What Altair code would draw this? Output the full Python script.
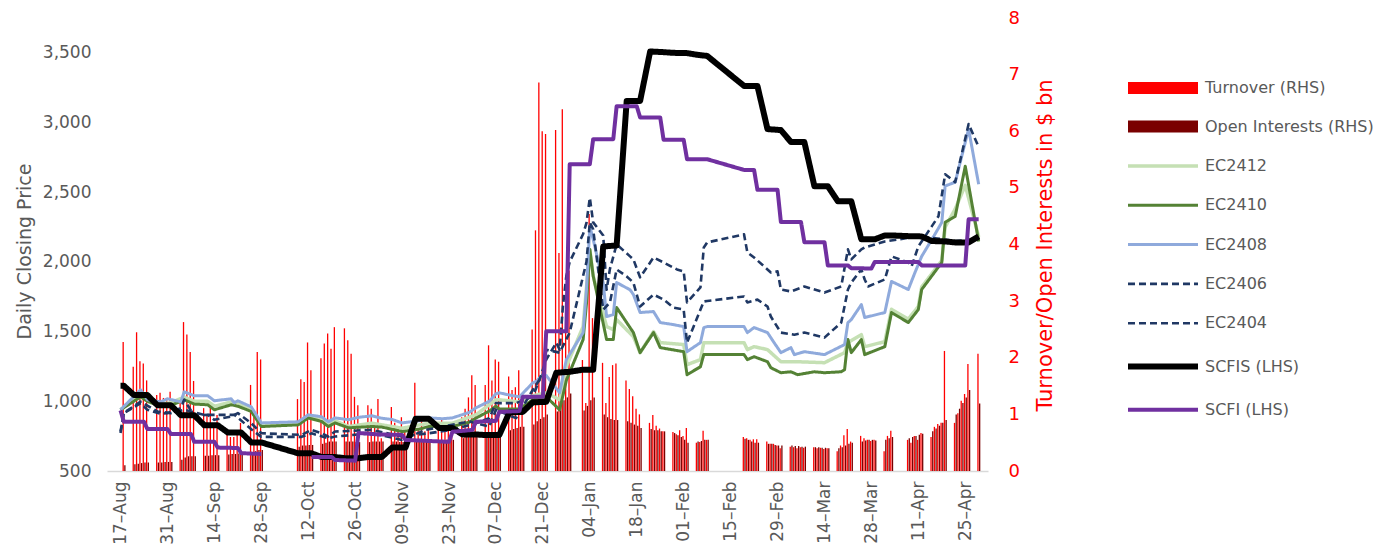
import altair as alt
import pandas as pd

FONT = "DejaVu Sans"
GRAY = "#595959"
RED = "#ff0000"

# ---------------- axis tick labels ----------------
tick_labels = ["2023-08-17", "2023-08-31", "2023-09-14", "2023-09-28", "2023-10-12",
               "2023-10-26", "2023-11-09", "2023-11-23", "2023-12-07", "2023-12-21",
               "2024-01-04", "2024-01-18", "2024-02-01", "2024-02-15", "2024-02-29",
               "2024-03-14", "2024-03-28", "2024-04-11", "2024-04-25"]
left_ticks = [500, 1000, 1500, 2000, 2500, 3000, 3500]
right_ticks = [0, 1, 2, 3, 4, 5, 6, 7, 8]

# ---------------- trading calendar ----------------
holidays = ["2023-09-29", "2023-10-02", "2023-10-03", "2023-10-04", "2023-10-05",
            "2023-10-06", "2024-01-01", "2024-02-09", "2024-02-12", "2024-02-13",
            "2024-02-14", "2024-02-15", "2024-02-16", "2024-04-04", "2024-04-05"]
trading_days = [d.strftime("%Y-%m-%d") for d in pd.bdate_range("2023-08-18", "2024-04-29")
                if d.strftime("%Y-%m-%d") not in holidays]

# ---------------- bars (US$ bn), one list per trading week ----------------
turnover_weeks = [
    [2.28],
    [1.84, 2.45, 1.94, 1.90, 1.60],
    [1.34, 1.38, 1.29, 1.25, 1.40],
    [1.25, 2.63, 2.41, 2.10, 1.59],
    [1.11, 0.97, 1.20, 0.81, 0.99],
    [0.72, 0.60, 0.60, 0.72, 0.85],
    [1.52, 1.07, 2.10, 1.97],
    [1.27, 1.62, 1.57, 2.27, 1.78],
    [1.99, 2.25, 2.43, 2.16, 2.54],
    [2.52, 2.31, 2.07, 1.31, 1.16],
    [1.16, 1.10, 0.85, 1.27, 0.58],
    [1.13, 0.85, 0.75, 0.95, 0.70],
    [1.56, 0.75, 0.90, 0.70, 0.80],
    [0.80, 0.90, 0.75, 0.85, 0.70],
    [0.95, 1.10, 1.30, 1.69, 1.52],
    [1.52, 2.22, 1.60, 1.97, 1.93],
    [1.67, 1.43, 1.48, 1.78, 1.30],
    [2.50, 4.25, 6.86, 6.00, 5.95],
    [6.02, 3.85, 6.39, 3.01, 3.54],
    [1.96, 1.20, 4.54, 2.70],
    [1.91, 1.20, 1.66, 1.87, 1.90],
    [1.60, 1.45, 1.32, 1.10, 1.00],
    [0.85, 0.99, 0.80, 0.75, 0.70],
    [0.69, 0.65, 0.72, 0.62, 0.76],
    [0.50, 0.51, 0.71, 0.55],
    [0.60, 0.58, 0.55, 0.56, 0.56],
    [0.52, 0.48, 0.48, 0.45, 0.40],
    [0.43, 0.42, 0.40, 0.42, 0.41],
    [0.42, 0.40, 0.41, 0.39, 0.40],
    [0.35, 0.45, 0.63, 0.74, 0.52],
    [0.62, 0.58, 0.55, 0.53, 0.55],
    [0.35, 0.62, 0.71],
    [0.55, 0.50, 0.62, 0.55, 0.67],
    [0.60, 0.78, 0.83, 0.85, 2.12],
    [0.85, 1.02, 1.24, 1.36, 1.89],
    [2.07],
]
oi_weeks = [
    [0.10],
    [0.12, 0.13, 0.14, 0.15, 0.15],
    [0.15, 0.15, 0.16, 0.16, 0.16],
    [0.20, 0.24, 0.26, 0.26, 0.26],
    [0.27, 0.27, 0.28, 0.28, 0.28],
    [0.29, 0.30, 0.30, 0.31, 0.31],
    [0.33, 0.35, 0.37, 0.37],
    [0.43, 0.45, 0.45, 0.46, 0.46],
    [0.48, 0.50, 0.52, 0.52, 0.52],
    [0.52, 0.52, 0.52, 0.51, 0.51],
    [0.51, 0.52, 0.52, 0.52, 0.52],
    [0.52, 0.52, 0.51, 0.51, 0.52],
    [0.52, 0.52, 0.52, 0.52, 0.52],
    [0.53, 0.54, 0.55, 0.55, 0.55],
    [0.58, 0.60, 0.62, 0.63, 0.63],
    [0.65, 0.67, 0.68, 0.69, 0.69],
    [0.72, 0.74, 0.76, 0.78, 0.78],
    [0.82, 0.88, 0.92, 0.95, 1.00],
    [1.05, 1.15, 1.25, 1.30, 1.37],
    [1.07, 1.15, 1.25, 1.30],
    [1.00, 0.95, 0.92, 0.90, 0.90],
    [0.88, 0.85, 0.82, 0.80, 0.76],
    [0.74, 0.72, 0.72, 0.70, 0.70],
    [0.67, 0.63, 0.60, 0.55, 0.50],
    [0.52, 0.53, 0.55, 0.55],
    [0.57, 0.55, 0.52, 0.50, 0.50],
    [0.48, 0.48, 0.46, 0.45, 0.45],
    [0.45, 0.44, 0.44, 0.43, 0.43],
    [0.42, 0.42, 0.41, 0.41, 0.40],
    [0.40, 0.42, 0.45, 0.48, 0.50],
    [0.52, 0.54, 0.55, 0.55, 0.54],
    [0.55, 0.58, 0.60],
    [0.58, 0.60, 0.62, 0.64, 0.66],
    [0.70, 0.75, 0.80, 0.85, 0.90],
    [1.00, 1.10, 1.20, 1.30, 1.43],
    [1.19],
]

# ---------------- price lines (LHS) ----------------
ec2412 = [("2023-08-17", 939), ("2023-08-23", 1050), ("2023-08-25", 1005), ("2023-08-29", 980),
          ("2023-09-01", 990), ("2023-09-05", 1030), ("2023-09-08", 1000), ("2023-09-12", 1000),
          ("2023-09-14", 965), ("2023-09-19", 995), ("2023-09-21", 990), ("2023-09-25", 945),
          ("2023-09-28", 835), ("2023-10-09", 840), ("2023-10-12", 890), ("2023-10-16", 870),
          ("2023-10-18", 835), ("2023-10-20", 860), ("2023-10-24", 819), ("2023-10-31", 843),
          ("2023-11-09", 807), ("2023-11-17", 843), ("2023-11-24", 843), ("2023-12-01", 903),
          ("2023-12-07", 1011), ("2023-12-08", 1011), ("2023-12-14", 996), ("2023-12-18", 1040),
          ("2023-12-22", 1061), ("2023-12-26", 1011), ("2023-12-28", 1250), ("2024-01-02", 1536),
          ("2024-01-04", 2090), ("2024-01-05", 1900), ("2024-01-09", 1536), ("2024-01-11", 1514),
          ("2024-01-12", 1586), ("2024-01-17", 1464), ("2024-01-19", 1349), ("2024-01-23", 1500),
          ("2024-01-25", 1421), ("2024-02-01", 1407), ("2024-02-02", 1263), ("2024-02-06", 1299),
          ("2024-02-07", 1421), ("2024-02-08", 1421), ("2024-02-19", 1421), ("2024-02-20", 1371),
          ("2024-02-22", 1392), ("2024-02-26", 1371), ("2024-03-01", 1284), ("2024-03-06", 1284),
          ("2024-03-14", 1277), ("2024-03-20", 1349), ("2024-03-21", 1421), ("2024-03-25", 1478),
          ("2024-03-26", 1392), ("2024-04-01", 1428), ("2024-04-03", 1660), ("2024-04-08", 1590),
          ("2024-04-11", 1680), ("2024-04-12", 1820), ("2024-04-18", 2010), ("2024-04-19", 2250),
          ("2024-04-22", 2380), ("2024-04-25", 2550), ("2024-04-29", 2180)]
ec2410 = [("2023-08-17", 939), ("2023-08-23", 1032), ("2023-08-25", 1000), ("2023-08-29", 963),
          ("2023-09-01", 970), ("2023-09-05", 1011), ("2023-09-08", 980), ("2023-09-12", 975),
          ("2023-09-14", 939), ("2023-09-19", 975), ("2023-09-21", 965), ("2023-09-25", 927),
          ("2023-09-28", 819), ("2023-10-09", 831), ("2023-10-12", 881), ("2023-10-16", 855),
          ("2023-10-18", 819), ("2023-10-20", 845), ("2023-10-24", 810), ("2023-10-31", 819),
          ("2023-11-03", 815), ("2023-11-09", 783), ("2023-11-14", 800), ("2023-11-17", 819),
          ("2023-11-24", 819), ("2023-11-29", 850), ("2023-12-01", 879), ("2023-12-05", 930),
          ("2023-12-07", 965), ("2023-12-08", 945), ("2023-12-14", 945), ("2023-12-18", 1011),
          ("2023-12-22", 1032), ("2023-12-26", 939), ("2023-12-28", 1150), ("2024-01-02", 1443),
          ("2024-01-03", 1700), ("2024-01-04", 2090), ("2024-01-05", 1900), ("2024-01-09", 1443),
          ("2024-01-11", 1443), ("2024-01-12", 1673), ("2024-01-17", 1493), ("2024-01-19", 1349),
          ("2024-01-23", 1493), ("2024-01-25", 1385), ("2024-02-01", 1356), ("2024-02-02", 1191),
          ("2024-02-06", 1248), ("2024-02-07", 1335), ("2024-02-08", 1335), ("2024-02-19", 1335),
          ("2024-02-20", 1299), ("2024-02-22", 1320), ("2024-02-26", 1284), ("2024-02-27", 1241),
          ("2024-03-01", 1205), ("2024-03-04", 1212), ("2024-03-06", 1191), ("2024-03-11", 1212),
          ("2024-03-14", 1205), ("2024-03-19", 1212), ("2024-03-20", 1227), ("2024-03-21", 1443),
          ("2024-03-22", 1349), ("2024-03-25", 1443), ("2024-03-26", 1335), ("2024-04-01", 1392),
          ("2024-04-03", 1637), ("2024-04-08", 1565), ("2024-04-11", 1658), ("2024-04-12", 1802),
          ("2024-04-18", 1996), ("2024-04-19", 2284), ("2024-04-22", 2327), ("2024-04-25", 2687),
          ("2024-04-29", 2147)]
ec2408 = [("2023-08-17", 939), ("2023-08-23", 1083), ("2023-08-25", 1011), ("2023-08-29", 996),
          ("2023-08-31", 1018), ("2023-09-04", 996), ("2023-09-05", 1068), ("2023-09-08", 1040),
          ("2023-09-12", 1040), ("2023-09-14", 1004), ("2023-09-19", 1018), ("2023-09-20", 989),
          ("2023-09-21", 1004), ("2023-09-25", 960), ("2023-09-28", 845), ("2023-10-09", 853),
          ("2023-10-12", 903), ("2023-10-16", 889), ("2023-10-18", 853), ("2023-10-20", 881),
          ("2023-10-24", 868), ("2023-10-27", 885), ("2023-10-31", 896), ("2023-11-03", 878),
          ("2023-11-06", 870), ("2023-11-09", 845), ("2023-11-14", 860), ("2023-11-17", 881),
          ("2023-11-21", 875), ("2023-11-24", 881), ("2023-11-29", 920), ("2023-12-01", 953),
          ("2023-12-05", 1000), ("2023-12-07", 1054), ("2023-12-08", 1061), ("2023-12-11", 1045),
          ("2023-12-14", 1032), ("2023-12-18", 1133), ("2023-12-19", 1143), ("2023-12-21", 1191),
          ("2023-12-22", 1185), ("2023-12-26", 1061), ("2023-12-28", 1300), ("2024-01-02", 1493),
          ("2024-01-03", 1800), ("2024-01-04", 2255), ("2024-01-05", 2162), ("2024-01-08", 1850),
          ("2024-01-09", 1608), ("2024-01-11", 1622), ("2024-01-12", 1852), ("2024-01-16", 1800),
          ("2024-01-17", 1766), ("2024-01-19", 1637), ("2024-01-23", 1644), ("2024-01-25", 1565),
          ("2024-01-29", 1550), ("2024-02-01", 1536), ("2024-02-02", 1356), ("2024-02-06", 1421),
          ("2024-02-07", 1529), ("2024-02-08", 1536), ("2024-02-19", 1536), ("2024-02-20", 1493),
          ("2024-02-22", 1529), ("2024-02-26", 1493), ("2024-02-28", 1420), ("2024-03-01", 1349),
          ("2024-03-04", 1385), ("2024-03-05", 1335), ("2024-03-08", 1356), ("2024-03-14", 1335),
          ("2024-03-20", 1407), ("2024-03-21", 1565), ("2024-03-22", 1586), ("2024-03-25", 1694),
          ("2024-03-26", 1601), ("2024-04-01", 1637), ("2024-04-03", 1860), ("2024-04-08", 1802),
          ("2024-04-10", 1924), ("2024-04-12", 2040), ("2024-04-16", 2200), ("2024-04-18", 2284),
          ("2024-04-19", 2545), ("2024-04-22", 2572), ("2024-04-26", 2953), ("2024-04-29", 2557)]
ec2406 = [("2023-08-17", 783), ("2023-08-18", 917), ("2023-08-23", 998), ("2023-08-28", 927),
          ("2023-09-01", 915), ("2023-09-05", 939), ("2023-09-11", 903), ("2023-09-20", 903),
          ("2023-09-25", 800), ("2023-09-28", 745), ("2023-10-10", 745), ("2023-10-13", 770),
          ("2023-10-18", 735), ("2023-10-20", 747), ("2023-10-31", 771), ("2023-11-09", 723),
          ("2023-11-16", 795), ("2023-11-29", 855), ("2023-12-05", 819), ("2023-12-07", 939),
          ("2023-12-13", 879), ("2023-12-18", 1083), ("2023-12-21", 1191), ("2023-12-22", 1370),
          ("2023-12-26", 1349), ("2023-12-29", 1493), ("2024-01-02", 1900), ("2024-01-03", 2000),
          ("2024-01-04", 2284), ("2024-01-05", 2234), ("2024-01-08", 1658), ("2024-01-10", 1709),
          ("2024-01-12", 1946), ("2024-01-15", 1896), ("2024-01-17", 1852), ("2024-01-19", 1680),
          ("2024-01-23", 1766), ("2024-01-26", 1730), ("2024-01-29", 1672), ("2024-02-01", 1658),
          ("2024-02-02", 1421), ("2024-02-07", 1716), ("2024-02-08", 1720), ("2024-02-19", 1752),
          ("2024-02-20", 1709), ("2024-02-23", 1730), ("2024-02-26", 1680), ("2024-02-27", 1608),
          ("2024-03-01", 1493), ("2024-03-05", 1478), ("2024-03-08", 1493), ("2024-03-14", 1457),
          ("2024-03-19", 1565), ("2024-03-21", 1802), ("2024-03-22", 1852), ("2024-03-25", 1946),
          ("2024-03-26", 1874), ("2024-03-27", 1824), ("2024-04-01", 1874), ("2024-04-03", 2040),
          ("2024-04-08", 1996), ("2024-04-09", 1968), ("2024-04-11", 2111), ("2024-04-15", 2255),
          ("2024-04-17", 2327), ("2024-04-19", 2629), ("2024-04-22", 2572), ("2024-04-26", 2989),
          ("2024-04-29", 2824)]
ec2404 = [("2023-08-17", 773), ("2023-08-18", 915), ("2023-08-23", 987), ("2023-08-25", 939),
          ("2023-08-29", 910), ("2023-08-31", 915), ("2023-09-04", 951), ("2023-09-05", 1011),
          ("2023-09-08", 896), ("2023-09-12", 903), ("2023-09-14", 867), ("2023-09-19", 891),
          ("2023-09-21", 915), ("2023-09-25", 843), ("2023-09-28", 771), ("2023-10-10", 759),
          ("2023-10-13", 795), ("2023-10-16", 771), ("2023-10-18", 747), ("2023-10-20", 783),
          ("2023-10-31", 795), ("2023-11-09", 747), ("2023-11-17", 771), ("2023-11-24", 795),
          ("2023-12-01", 843), ("2023-12-05", 879), ("2023-12-07", 987), ("2023-12-13", 987),
          ("2023-12-18", 1035), ("2023-12-20", 1155), ("2023-12-22", 1300), ("2023-12-25", 1420),
          ("2023-12-26", 1370), ("2023-12-27", 1690), ("2023-12-28", 1900), ("2023-12-29", 2000),
          ("2024-01-02", 2200), ("2024-01-03", 2280), ("2024-01-04", 2460), ("2024-01-05", 2284),
          ("2024-01-08", 2190), ("2024-01-09", 1800), ("2024-01-10", 1950), ("2024-01-12", 2126),
          ("2024-01-16", 2040), ("2024-01-17", 2018), ("2024-01-19", 1889), ("2024-01-23", 2032),
          ("2024-01-26", 1996), ("2024-01-30", 1946), ("2024-02-01", 1932), ("2024-02-02", 1709),
          ("2024-02-06", 1817), ("2024-02-07", 2104), ("2024-02-08", 2140), ("2024-02-19", 2198),
          ("2024-02-20", 2068), ("2024-02-22", 2032), ("2024-02-26", 1946), ("2024-02-27", 1924),
          ("2024-02-29", 1932), ("2024-03-01", 1802), ("2024-03-04", 1788), ("2024-03-08", 1824),
          ("2024-03-14", 1780), ("2024-03-19", 1824), ("2024-03-21", 2090), ("2024-03-22", 2018),
          ("2024-03-25", 2090), ("2024-03-26", 2104), ("2024-04-01", 2147), ("2024-04-11", 2183),
          ("2024-04-16", 2170), ("2024-04-22", 2150), ("2024-04-29", 2165)]
scfis = [("2023-08-17", 1111), ("2023-08-18", 1111), ("2023-08-21", 1045), ("2023-08-25", 1045),
         ("2023-08-28", 972), ("2023-09-01", 972), ("2023-09-04", 900), ("2023-09-08", 900),
         ("2023-09-11", 828), ("2023-09-15", 828), ("2023-09-18", 776), ("2023-09-22", 776),
         ("2023-09-25", 705), ("2023-09-28", 705), ("2023-10-09", 627), ("2023-10-13", 627),
         ("2023-10-16", 600), ("2023-10-20", 600), ("2023-10-23", 592), ("2023-10-27", 592),
         ("2023-10-30", 601), ("2023-11-03", 601), ("2023-11-06", 668), ("2023-11-10", 668),
         ("2023-11-13", 874), ("2023-11-17", 874), ("2023-11-20", 809), ("2023-11-24", 809),
         ("2023-11-27", 762), ("2023-12-01", 762), ("2023-12-04", 758), ("2023-12-08", 758),
         ("2023-12-11", 920), ("2023-12-15", 924), ("2023-12-18", 993), ("2023-12-22", 996),
         ("2023-12-25", 1205), ("2023-12-29", 1212), ("2024-01-02", 1227), ("2024-01-05", 1227),
         ("2024-01-08", 2111), ("2024-01-12", 2118), ("2024-01-15", 3155), ("2024-01-19", 3155),
         ("2024-01-22", 3510), ("2024-01-26", 3505), ("2024-01-29", 3500), ("2024-02-02", 3498),
         ("2024-02-05", 3486), ("2024-02-08", 3478), ("2024-02-19", 3263), ("2024-02-23", 3263),
         ("2024-02-26", 2953), ("2024-03-01", 2946), ("2024-03-04", 2860), ("2024-03-08", 2860),
         ("2024-03-11", 2543), ("2024-03-15", 2543), ("2024-03-18", 2435), ("2024-03-22", 2435),
         ("2024-03-25", 2162), ("2024-03-29", 2162), ("2024-04-01", 2190), ("2024-04-03", 2190),
         ("2024-04-08", 2185), ("2024-04-12", 2183), ("2024-04-15", 2150), ("2024-04-19", 2147),
         ("2024-04-22", 2140), ("2024-04-26", 2140), ("2024-04-29", 2183)]
scfi_part1 = [("2023-08-17", 935), ("2023-08-18", 853), ("2023-08-24", 853), ("2023-08-25", 802),
              ("2023-08-31", 802), ("2023-09-01", 766), ("2023-09-07", 766), ("2023-09-08", 709),
              ("2023-09-14", 709), ("2023-09-15", 668), ("2023-09-21", 665), ("2023-09-22", 628),
              ("2023-09-28", 622)]
scfi_part2 = [("2023-10-13", 601), ("2023-10-19", 601), ("2023-10-20", 579), ("2023-10-26", 574),
              ("2023-10-27", 773), ("2023-11-02", 762), ("2023-11-09", 759), ("2023-11-10", 723),
              ("2023-11-23", 709), ("2023-11-24", 781), ("2023-11-30", 795), ("2023-12-01", 853),
              ("2023-12-07", 860), ("2023-12-08", 924), ("2023-12-14", 930), ("2023-12-15", 1032),
              ("2023-12-21", 1032), ("2023-12-22", 1502), ("2023-12-28", 1502), ("2023-12-29", 2701),
              ("2024-01-04", 2701), ("2024-01-05", 2881), ("2024-01-11", 2881), ("2024-01-12", 3117),
              ("2024-01-18", 3117), ("2024-01-19", 3037), ("2024-01-25", 3037), ("2024-01-26", 2876),
              ("2024-02-01", 2876), ("2024-02-02", 2737), ("2024-02-08", 2737), ("2024-02-19", 2660),
              ("2024-02-22", 2660), ("2024-02-23", 2517), ("2024-02-29", 2517), ("2024-03-01", 2286),
              ("2024-03-07", 2286), ("2024-03-08", 2142), ("2024-03-14", 2142), ("2024-03-15", 1975),
              ("2024-03-21", 1975), ("2024-03-22", 1955), ("2024-03-28", 1953), ("2024-03-29", 2000),
              ("2024-04-11", 2000), ("2024-04-12", 1975), ("2024-04-25", 1975), ("2024-04-26", 2306),
              ("2024-04-29", 2306)]

series_names = ["EC2412", "EC2410", "EC2408", "EC2406", "EC2404", "SCFIS (LHS)", "SCFI (LHS)"]
series_data = [[ec2412], [ec2410], [ec2408], [ec2406], [ec2404], [scfis], [scfi_part1, scfi_part2]]
series_colors = ["#c5e0b4", "#548235", "#8faadc", "#1f3864", "#203864", "#000000", "#7030a0"]
series_dash = [[1, 0], [1, 0], [1, 0], [7, 4], [7, 4], [1, 0], [1, 0]]
series_width = [3.5, 3, 3, 2.6, 2.6, 6, 4]

bar_names = ["Turnover (RHS)", "Open Interests (RHS)"]
bar_colors = ["#ff0000", "#7a0000"]

# ---------------- tables ----------------
turnover = [v for w in turnover_weeks for v in w]
oi = [v for w in oi_weeks for v in w]
n = min(len(trading_days), len(turnover), len(oi))
bars_df = pd.DataFrame({
    "date": trading_days[:n] * 2,
    "measure": [bar_names[0]] * n + [bar_names[1]] * n,
    "value": turnover[:n] + oi[:n],
})

rows = []
for name, segs in zip(series_names, series_data):
    for si, seg in enumerate(segs):
        for d, v in seg:
            rows.append({"series": name, "seg": f"{name}-{si}", "date": d, "value": v})
lines_df = pd.DataFrame(rows)

# ---------------- encodings ----------------
def dt(s, hours=0):
    return alt.DateTime(year=int(s[:4]), month=int(s[5:7]), date=int(s[8:10]), hours=hours, utc=True)

x_scale = alt.Scale(type="utc", domain=[dt("2023-08-14", 11), dt("2024-04-30", 7)])
x_axis = alt.Axis(values=[dt(s) for s in tick_labels], format="%d\u2013%b",
                  labelAngle=270, labelFont=FONT, labelFontSize=17, labelColor=GRAY,
                  labelPadding=10, ticks=False, grid=False, domainColor="#d9d9d9",
                  domainWidth=1.5, title=None, labelOverlap=False)
x_enc = alt.X("date:T", scale=x_scale, axis=x_axis)

y_left = alt.Y("value:Q", scale=alt.Scale(domain=[500, 3750], nice=False, zero=False),
               axis=alt.Axis(orient="left", values=left_ticks, format=",.0f", domain=False,
                             ticks=False, grid=False, labelFont=FONT, labelFontSize=17,
                             labelColor=GRAY, labelPadding=16, title="Daily Closing Price",
                             titleFont=FONT, titleFontSize=19, titleFontWeight="normal",
                             titleColor=GRAY, titleAngle=270, titleX=-83, titleY=233,
                             titleAlign="center", titleBaseline="middle"))
y_right = alt.Y("value:Q", scale=alt.Scale(domain=[0, 8], nice=False),
                axis=alt.Axis(orient="right", values=right_ticks, format=".0f", domain=False,
                              ticks=False, grid=False, labelFont=FONT, labelFontSize=18,
                              labelColor=RED, labelPadding=20,
                              title="Turnover/Open Interests in $ bn",
                              titleFont=FONT, titleFontSize=21, titleFontWeight="normal",
                              titleColor=RED, titleAngle=270, titleX=57, titleY=227,
                              titleAlign="center", titleBaseline="middle"))

bar_legend = alt.Legend(title=None, orient="none", legendX=1048, legendY=62,
                        symbolType="M-7,-1.2H7V1.2H-7Z", symbolSize=100, symbolStrokeWidth=0,
                        labelFont=FONT, labelFontSize=16, labelColor=GRAY, labelOffset=34,
                        labelLimit=300, rowPadding=22.5, padding=0)
width_expr = ("datum.value === 'SCFIS (LHS)' ? 6 : datum.value === 'SCFI (LHS)' ? 4 : "
              "(datum.value === 'EC2406' || datum.value === 'EC2404') ? 2.6 : 3")
dash_expr = "(datum.value === 'EC2406' || datum.value === 'EC2404') ? [6, 3.5] : [1, 0]"
line_legend = alt.Legend(title=None, orient="none", legendX=1048, legendY=140,
                         symbolType="M-7,0H7", symbolSize=100,
                         symbolStrokeWidth=alt.ExprRef(width_expr),
                         symbolDash=alt.ExprRef(dash_expr),
                         labelFont=FONT, labelFontSize=16, labelColor=GRAY, labelOffset=34,
                         labelLimit=300, rowPadding=23.3, padding=0)

bar_color = alt.Color("measure:N", scale=alt.Scale(domain=bar_names, range=bar_colors),
                      legend=bar_legend)

turn_bars = alt.Chart(bars_df).transform_filter(
    alt.datum.measure == bar_names[0]
).mark_bar(width=1.3, xOffset=-0.7).encode(x=x_enc, y=y_right, color=bar_color)
oi_bars = alt.Chart(bars_df).transform_filter(
    alt.datum.measure == bar_names[1]
).mark_bar(width=1.3, xOffset=1.0).encode(x=x_enc, y=y_right, color=bar_color)
bar_layer = alt.layer(turn_bars, oi_bars)

line_layer = alt.Chart(lines_df).mark_line(strokeJoin="round").encode(
    x=x_enc,
    y=y_left,
    color=alt.Color("series:N", scale=alt.Scale(domain=series_names, range=series_colors),
                    legend=line_legend),
    strokeDash=alt.StrokeDash("series:N", scale=alt.Scale(domain=series_names, range=series_dash),
                              legend=None),
    strokeWidth=alt.StrokeWidth("series:N",
                                scale=alt.Scale(type="ordinal", domain=series_names,
                                                range=series_width),
                                legend=None),
    detail="seg:N",
)

chart = alt.layer(bar_layer, line_layer).resolve_scale(
    y="independent", color="independent", strokeDash="independent", strokeWidth="independent"
).properties(
    width=881, height=453,
    autosize=alt.AutoSizeParams(type="none"),
    padding={"left": 99, "top": 10, "right": 399, "bottom": 75},
).configure_view(stroke=None)

chart.save("out.html", embed_options={"renderer": "svg", "actions": False})
